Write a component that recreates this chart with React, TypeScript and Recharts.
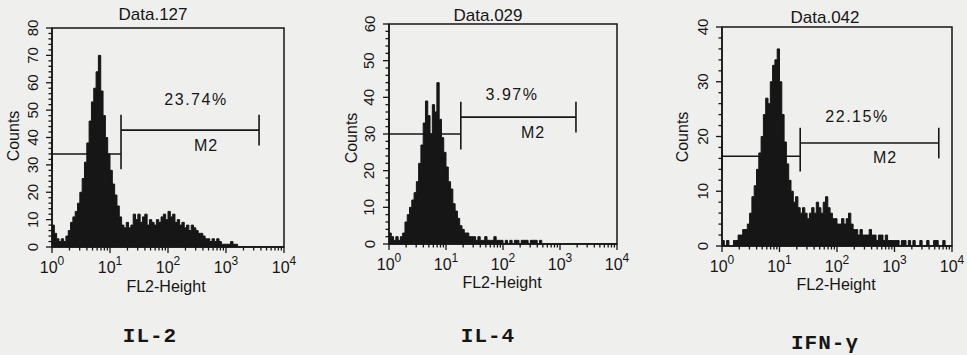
import React from 'react';
import { ComposedChart, Area, XAxis, YAxis, ReferenceLine, ReferenceArea } from 'recharts';

// histogram channels, 0.04 decade wide, from 10^0 to 10^4
const BIN = 0.04;

const il2Counts = [
  8, 5, 3, 2, 3, 2, 4, 6, 9, 11,
  13, 16, 20, 25, 31, 38, 46, 53, 58, 64,
  70, 57, 48, 40, 34, 28, 23, 19, 15, 11,
  8, 7, 9, 7, 8, 12, 10, 12, 9, 11,
  12, 8, 10, 9, 8, 10, 9, 11, 12, 10,
  13, 11, 12, 9, 10, 8, 9, 7, 8, 6,
  8, 7, 6, 5, 5, 4, 3, 3, 2, 3,
  2, 3, 2, 1, 1, 1, 1, 2, 1, 1,
  0, 0, 0, 0, 0, 0, 0, 0, 0, 0,
  0, 0, 0, 0, 0, 0, 0, 0, 0, 0,
];

const il4Counts = [
  3, 2, 1, 2, 1, 2, 3, 6, 8, 10,
  12, 14, 17, 22, 27, 33, 39, 35, 30, 38,
  36, 44, 34, 29, 25, 21, 17, 15, 11, 9,
  7, 5, 4, 3, 3, 2, 2, 2, 1, 2,
  1, 1, 2, 1, 1, 1, 2, 1, 1, 1,
  0, 1, 0, 1, 0, 1, 1, 0, 1, 1,
  1, 0, 1, 1, 1, 0, 1, 0, 0, 0,
  0, 0, 0, 0, 0, 0, 0, 0, 0, 0,
  0, 0, 0, 0, 0, 0, 0, 0, 0, 0,
  0, 0, 0, 0, 0, 0, 0, 0, 0, 0,
];

const ifnCounts = [
  1, 0, 1, 0, 0, 1, 1, 2, 2, 3,
  3, 4, 6, 9, 11, 14, 17, 20, 24, 27,
  26, 30, 33, 34, 36, 30, 24, 19, 15, 12,
  10, 8, 9, 7, 6, 7, 6, 5, 6, 7,
  6, 8, 7, 6, 8, 9, 7, 6, 5, 5,
  4, 4, 5, 4, 5, 6, 4, 3, 3, 2,
  3, 2, 2, 2, 3, 2, 2, 1, 2, 2,
  1, 2, 1, 1, 1, 1, 1, 0, 1, 1,
  0, 1, 0, 1, 0, 0, 1, 0, 0, 1,
  0, 0, 1, 1, 0, 0, 1, 0, 0, 0,
];

const panelTitles = ['Data.127', 'Data.029', 'Data.042'];
const cytokineNames = ['IL-2', 'IL-4', 'IFN-γ'];
const gatePercents = ['23.74%', '3.97%', '22.15%'];
const countMax = [80, 60, 40];

// gates: M1 from 10^0 to the boundary, M2 from the boundary to m2End (decades)
const gateBoundary = [1.19, 1.26, 1.36];
const m2End = [3.57, 3.28, 3.77];
const m1Level = [34, 30, 16.4];
const m2Level = [42.7, 34.6, 18.8];

const allCounts = [il2Counts, il4Counts, ifnCounts];

const INK = '#161616';
const FONT = '"Liberation Sans", Arial, sans-serif';

// margins already account for the 1px axis width/height
const layout = [
  {
    left: 0, width: 320,
    margin: { top: 28, left: 51, right: 36, bottom: 52 },
    title: { x: 153, y: 14 }, pct: { x: 196, y: 100 }, m2: { x: 206, y: 146 },
    counts: { x: 14, y: 136 }, fl2: { x: 166, y: 287 }, name: { x: 150, y: 336 },
  },
  {
    left: 320, width: 320,
    margin: { top: 24, left: 68, right: 23, bottom: 55 },
    title: { x: 488, y: 15 }, pct: { x: 512, y: 95 }, m2: { x: 533, y: 133 },
    counts: { x: 352, y: 138 }, fl2: { x: 502, y: 283 }, name: { x: 488, y: 336 },
  },
  {
    left: 640, width: 327,
    margin: { top: 27, left: 81, right: 15, bottom: 53 },
    title: { x: 825, y: 17 }, pct: { x: 857, y: 117 }, m2: { x: 885, y: 158 },
    counts: { x: 683, y: 137 }, fl2: { x: 836, y: 285 }, name: { x: 825, y: 343 },
  },
];

const toBins = (counts: number[]) => {
  const rows = counts.map((c, i) => ({ x: +(i * BIN).toFixed(2), count: c }));
  rows.push({ x: 4, count: counts[counts.length - 1] });
  return rows;
};

// log axis: majors at each decade, minors at 2..9
const xTicks: number[] = [];
for (let d = 0; d < 4; d++) {
  xTicks.push(d);
  for (let m = 2; m <= 9; m++) xTicks.push(d + Math.log10(m));
}
xTicks.push(4);

const XTick = (props: any) => {
  const { x, y, payload } = props;
  const v = payload.value;
  const major = Math.abs(v - Math.round(v)) < 1e-6;
  return (
    <g>
      <line x1={x} x2={x} y1={y} y2={y + (major ? 6 : 3.5)} stroke={INK} strokeWidth={1.3} />
      {major && (
        <text x={x} y={y + 26} textAnchor="middle" fontSize={16} fill={INK} fontFamily={FONT}>
          10<tspan dy={-8} fontSize={12}>{Math.round(v)}</tspan>
        </text>
      )}
    </g>
  );
};

const YTick = (props: any) => {
  const { x, y, payload } = props;
  const v = payload.value;
  const major = v % 10 === 0;
  return (
    <g>
      <line x1={x} x2={x - (major ? 6 : 3.5)} y1={y} y2={y} stroke={INK} strokeWidth={1.3} />
      {major && (
        <text
          x={x - 20}
          y={y}
          textAnchor="middle"
          dominantBaseline="central"
          fontSize={15}
          fill={INK}
          fontFamily={FONT}
          transform={`rotate(-90, ${x - 20}, ${y})`}
        >
          {v}
        </text>
      )}
    </g>
  );
};

const textStyle = (x: number, y: number, extra: React.CSSProperties = {}): React.CSSProperties => ({
  position: 'absolute',
  left: x,
  top: y,
  transform: 'translate(-50%, -50%)',
  whiteSpace: 'nowrap',
  fontFamily: FONT,
  color: INK,
  lineHeight: 1,
  ...extra,
});

const Panel = ({ idx }: { idx: number }) => {
  const L = layout[idx];
  const max = countMax[idx];
  const data = toBins(allCounts[idx]);
  const yTicks: number[] = [];
  for (let v = 0; v <= max; v += 2) yTicks.push(v);
  const half = max * 0.07;
  const b = gateBoundary[idx];
  const e = m2End[idx];
  const y1 = m1Level[idx];
  const y2 = m2Level[idx];
  const seg = (ax: number, ay: number, bx: number, by: number, key: string) => (
    <ReferenceLine
      key={key}
      segment={[{ x: ax, y: ay }, { x: bx, y: by }]}
      stroke={INK}
      strokeWidth={1.6}
      ifOverflow="visible"
    />
  );

  return (
    <div style={{ position: 'absolute', left: L.left, top: 0, width: L.width, height: 300 }}>
      <ComposedChart width={L.width} height={300} data={data} margin={L.margin}>
        <XAxis
          type="number"
          dataKey="x"
          domain={[0, 4]}
          ticks={xTicks}
          interval={0}
          tickSize={0}
          tickMargin={0}
          tickLine={false}
          axisLine={{ stroke: INK, strokeWidth: 1.5 }}
          tick={(p: any) => <XTick {...p} />}
          height={1}
          allowDataOverflow
        />
        <YAxis
          type="number"
          domain={[0, max]}
          ticks={yTicks}
          interval={0}
          tickSize={0}
          tickMargin={0}
          tickLine={false}
          axisLine={{ stroke: INK, strokeWidth: 1.5 }}
          tick={(p: any) => <YTick {...p} />}
          width={1}
          allowDataOverflow
        />
        <Area
          type="stepAfter"
          dataKey="count"
          stroke={INK}
          strokeWidth={1}
          fill={INK}
          fillOpacity={1}
          baseValue={0}
          dot={false}
          activeDot={false}
          isAnimationActive={false}
        />
        <ReferenceArea x1={0} x2={4} y1={0} y2={max} fill="none" stroke={INK} strokeWidth={1.5} ifOverflow="visible" />
        {seg(0, y1, b, y1, 'm1')}
        {seg(0, y1 - half, 0, y1 + half, 'm1a')}
        {seg(b, y1 - half, b, y2 + half, 'mb')}
        {seg(b, y2, e, y2, 'm2')}
        {seg(e, y2 - half, e, y2 + half, 'm2b')}
      </ComposedChart>
    </div>
  );
};

export default function App() {
  return (
    <div style={{ position: 'absolute', left: 0, top: 0, width: 967, height: 355, background: '#efefed', overflow: 'hidden' }}>
      {[0, 1, 2].map((i) => (
        <Panel key={i} idx={i} />
      ))}
      {layout.map((L, i) => (
        <React.Fragment key={`t${i}`}>
          <div style={textStyle(L.title.x, L.title.y, { fontSize: 17 })}>{panelTitles[i]}</div>
          <div style={textStyle(L.pct.x, L.pct.y, { fontSize: 16, letterSpacing: 1.5 })}>{gatePercents[i]}</div>
          <div style={textStyle(L.m2.x, L.m2.y, { fontSize: 16, letterSpacing: 1 })}>M2</div>
          <div style={textStyle(L.counts.x, L.counts.y, { fontSize: 16, transform: 'translate(-50%, -50%) rotate(-90deg)' })}>Counts</div>
          <div style={textStyle(L.fl2.x, L.fl2.y, { fontSize: 16 })}>FL2-Height</div>
          <div style={textStyle(L.name.x, L.name.y, { fontSize: 21, fontWeight: 'bold', letterSpacing: 1, fontFamily: '"Liberation Mono", "Courier New", monospace' })}>
            {cytokineNames[i]}
          </div>
        </React.Fragment>
      ))}
    </div>
  );
}
